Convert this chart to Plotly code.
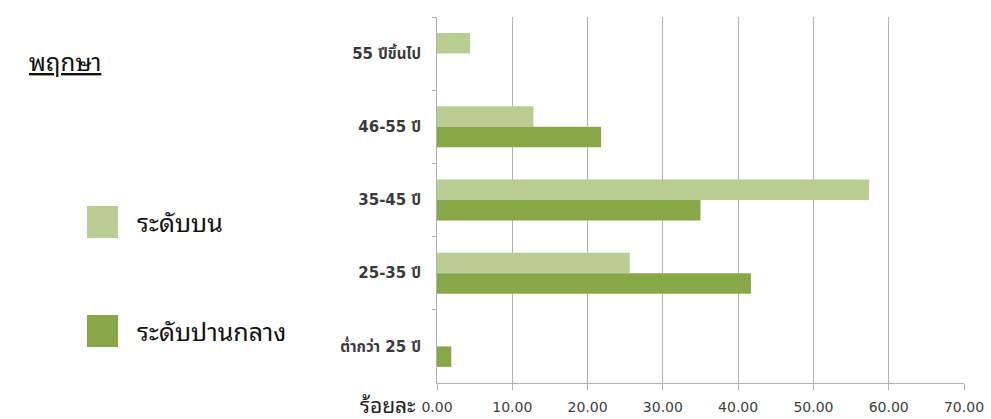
import plotly.graph_objects as go

categories = ["55 ปีขึ้นไป", "46-55 ปี", "35-45 ปี", "25-35 ปี", "ต่ำกว่า 25 ปี"]
upper_level = [4.4, 12.8, 57.4, 25.6, 0.0]
middle_level = [0.0, 21.8, 35.0, 41.7, 1.9]
x_ticks = [0, 10, 20, 30, 40, 50, 60, 70]
x_tick_labels = ["0.00", "10.00", "20.00", "30.00", "40.00", "50.00", "60.00", "70.00"]
series_names = ["ระดับบน", "ระดับปานกลาง"]
colors = ["#b7cd92", "#88a748"]

W, H = 991, 419
L, R, T, B = 437, 27, 17, 36
pw, ph = W - L - R, H - T - B

def px(x):
    return (x - L) / pw

def py(y):
    return (H - B - y) / ph

THAI = "Noto Sans Thai Looped, Noto Sans Thai, Garuda, Loma, Tahoma, Noto Sans, sans-serif"
TICK = "DejaVu Sans, Noto Sans Thai, Noto Sans, sans-serif"

fig = go.Figure()
fig.add_trace(go.Bar(y=categories, x=upper_level, orientation="h", name=series_names[0],
                     marker=dict(color=colors[0], line=dict(width=0)), showlegend=False))
fig.add_trace(go.Bar(y=categories, x=middle_level, orientation="h", name=series_names[1],
                     marker=dict(color=colors[1], line=dict(width=0)), showlegend=False))

fig.update_layout(
    width=W, height=H,
    margin=dict(l=L, r=R, t=T, b=B, autoexpand=False),
    paper_bgcolor="white", plot_bgcolor="white",
    barmode="group", bargap=0.44, bargroupgap=0,
    font=dict(family=THAI, color="#404040"),
    xaxis=dict(range=[0, 70], tickvals=x_ticks, ticktext=x_tick_labels,
               showgrid=True, gridcolor="#b0b0b0", gridwidth=1,
               showline=True, linecolor="#b0b0b0", linewidth=1,
               ticks="outside", ticklen=6, tickcolor="#b0b0b0",
               ticklabelstandoff=5, automargin=False,
               tickfont=dict(family=TICK, size=14, color="#404040"), zeroline=False),
    yaxis=dict(categoryorder="array", categoryarray=categories, autorange="reversed",
               showline=True, linecolor="#b0b0b0", linewidth=1,
               ticks="outside", ticklen=4, tickcolor="#b0b0b0", tickson="boundaries",
               ticklabelstandoff=12, automargin=False,
               showgrid=False,
               tickfont=dict(family=TICK, size=15, color="#3a3a3a", weight="bold")),
)

# Title
fig.add_annotation(x=px(27), y=py(60), xref="paper", yref="paper", xanchor="left", yanchor="middle",
                   text="<u>พฤกษา</u>", showarrow=False, font=dict(family=THAI, size=24, color="#111111"))
# Axis unit label
fig.add_annotation(x=px(418), y=py(403), xref="paper", yref="paper", xanchor="right", yanchor="middle",
                   text="ร้อยละ", showarrow=False, font=dict(family=THAI, size=21, color="#222222"))

# Custom legend
legend_rows = [(206, 238), (315, 347)]
for (y0, y1), name, c in zip(legend_rows, series_names, colors):
    fig.add_shape(type="rect", xref="paper", yref="paper",
                  x0=px(87), x1=px(118), y0=py(y1), y1=py(y0),
                  fillcolor=c, line=dict(width=0))
    fig.add_annotation(x=px(135), y=py((y0 + y1) / 2 - 1), xref="paper", yref="paper",
                       xanchor="left", yanchor="middle", text=name, showarrow=False,
                       font=dict(family=THAI, size=25, color="#111111"))

fig.write_html("out.html")
